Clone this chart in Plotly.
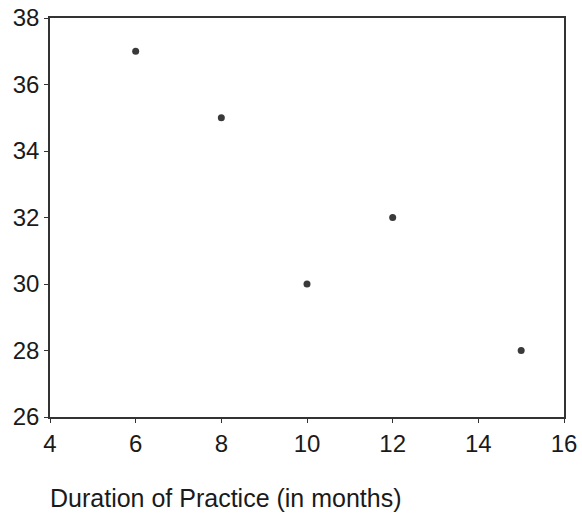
import plotly.graph_objects as go

# Practice duration (months) vs. score
duration_months = [6, 8, 10, 12, 15]
scores = [37, 35, 30, 32, 28]

x_ticks = [4, 6, 8, 10, 12, 14, 16]
y_ticks = [26, 28, 30, 32, 34, 36, 38]

axis_color = "#333333"
font_family = "Liberation Sans, Arial, sans-serif"

fig = go.Figure(
    go.Scatter(
        x=duration_months,
        y=scores,
        mode="markers",
        marker=dict(size=7, color="#3a3a3a"),
        hoverinfo="x+y",
    )
)

common_axis = dict(
    showgrid=False,
    zeroline=False,
    showline=True,
    linecolor=axis_color,
    linewidth=1.5,
    mirror=True,
    ticks="outside",
    ticklen=4,
    tickwidth=1,
    tickcolor=axis_color,
    automargin=False,
    tickfont=dict(family=font_family, size=24, color="#1a1a1a"),
)

fig.update_xaxes(
    range=[4, 16],
    tickvals=x_ticks,
    ticktext=[str(v) for v in x_ticks],
    **common_axis,
)
fig.update_yaxes(
    range=[26, 38],
    tickvals=y_ticks,
    ticktext=[str(v) for v in y_ticks],
    **common_axis,
)

fig.add_annotation(
    text="Duration of Practice (in months)",
    xref="paper",
    yref="paper",
    x=0,
    y=-0.203,
    xanchor="left",
    yanchor="middle",
    xshift=-2,
    showarrow=False,
    font=dict(family=font_family, size=25, color="#1a1a1a"),
)

fig.update_layout(
    width=582,
    height=517,
    margin=dict(l=50, r=18, t=18, b=100),
    plot_bgcolor="white",
    paper_bgcolor="white",
    showlegend=False,
)

fig.write_html("out.html")
